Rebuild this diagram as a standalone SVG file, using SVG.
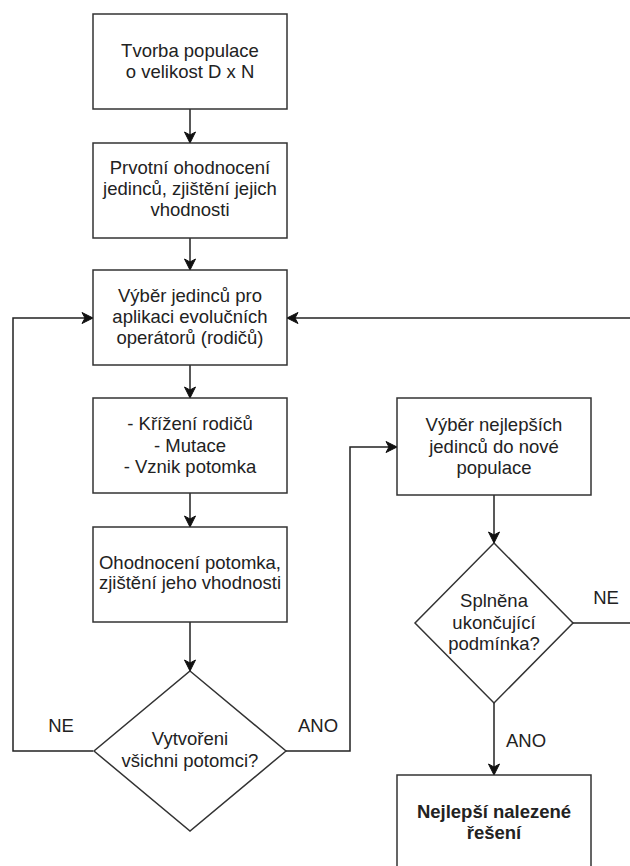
<svg xmlns="http://www.w3.org/2000/svg" width="630" height="866" viewBox="0 0 630 866">
<style>
.n{fill:#fff;stroke:#333;stroke-width:1.5}
.t{font-family:"Liberation Sans",Arial,sans-serif;font-size:18.5px;fill:#222;text-anchor:middle}
.b{font-weight:bold}
.c{fill:none;stroke:#222;stroke-width:1.5}
.l{font-family:"Liberation Sans",Arial,sans-serif;font-size:18.5px;fill:#222;text-anchor:middle}
</style>
<defs>
<marker id="a" markerUnits="userSpaceOnUse" markerWidth="14" markerHeight="14" viewBox="-12 -7 14 14" refX="0" refY="0" orient="auto">
<path d="M0,0 L-11,-5.5 L-8,0 L-11,5.5 Z" fill="#111" stroke="#111" stroke-width="1"/>
</marker>
</defs>
<rect width="630" height="866" fill="#fff"/>
<g id="connectors">
<path class="c" d="M190,109 V143" marker-end="url(#a)"/>
<path class="c" d="M190,238 V270" marker-end="url(#a)"/>
<path class="c" d="M190,365 V398" marker-end="url(#a)"/>
<path class="c" d="M190,493 V527" marker-end="url(#a)"/>
<path class="c" d="M190,622 V671" marker-end="url(#a)"/>
<path class="c" d="M93,751 H13 V318 H93" marker-end="url(#a)"/>
<path class="c" d="M286,751 H350 V447 H397" marker-end="url(#a)"/>
<path class="c" d="M632,318 H287" marker-end="url(#a)"/>
<path class="c" d="M494,495 V543" marker-end="url(#a)"/>
<path class="c" d="M573,623 H632"/>
<path class="c" d="M494,703 V775" marker-end="url(#a)"/>
<text class="l" x="61" y="732">NE</text>
<text class="l" x="318" y="732">ANO</text>
<text class="l" x="606" y="604">NE</text>
<text class="l" x="526" y="747">ANO</text>
</g>
<g id="n1">
<rect class="n" x="93" y="14" width="194" height="95"/>
<text class="t" x="190" y="57">Tvorba populace</text>
<text class="t" x="190" y="78">o velikost D x N</text>
</g>
<g id="n2">
<rect class="n" x="93" y="143" width="194" height="95"/>
<text class="t" x="190" y="174">Prvotní ohodnocení</text>
<text class="t" x="190" y="195">jedinců, zjištění jejich</text>
<text class="t" x="190" y="216">vhodnosti</text>
</g>
<g id="n3">
<rect class="n" x="93" y="270" width="194" height="95"/>
<text class="t" x="190" y="302">Výběr jedinců pro</text>
<text class="t" x="190" y="323">aplikaci evolučních</text>
<text class="t" x="190" y="344">operátorů (rodičů)</text>
</g>
<g id="n4">
<rect class="n" x="93" y="398" width="194" height="95"/>
<text class="t" x="190" y="430">- Křížení rodičů</text>
<text class="t" x="190" y="452">- Mutace</text>
<text class="t" x="190" y="473">- Vznik potomka</text>
</g>
<g id="n5">
<rect class="n" x="93" y="527" width="194" height="95"/>
<text class="t" x="190" y="569">Ohodnocení potomka,</text>
<text class="t" x="190" y="589">zjištění jeho vhodnosti</text>
</g>
<g id="d1">
<path class="n" d="M190,671 L286,751 L190,831 L94,751 Z"/>
<text class="t" x="190" y="745">Vytvořeni</text>
<text class="t" x="190" y="767">všichni potomci?</text>
</g>
<g id="n6">
<rect class="n" x="397" y="398" width="194" height="97"/>
<text class="t" x="494" y="431">Výběr nejlepších</text>
<text class="t" x="494" y="453">jedinců do nové</text>
<text class="t" x="494" y="474">populace</text>
</g>
<g id="d2">
<path class="n" d="M494,543 L573,623 L494,703 L415,623 Z"/>
<text class="t" x="494" y="607">Splněna</text>
<text class="t" x="494" y="629">ukončující</text>
<text class="t" x="494" y="650">podmínka?</text>
</g>
<g id="n7">
<rect class="n" x="397" y="775" width="194" height="97"/>
<text class="t b" x="494" y="818">Nejlepší nalezené</text>
<text class="t b" x="494" y="839">řešení</text>
</g>
</svg>
